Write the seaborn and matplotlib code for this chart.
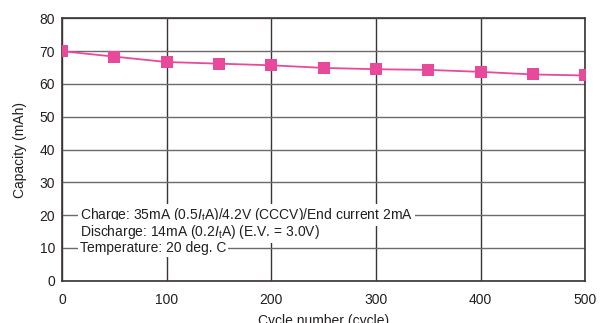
import numpy as np
import pandas as pd
import seaborn as sns
from matplotlib import pyplot as plt

cycles = [0, 50, 100, 150, 200, 250, 300, 350, 400, 450, 500]
capacity = [70.0, 68.35, 66.7, 66.2, 65.7, 64.9, 64.5, 64.3, 63.7, 62.9, 62.6]

notes = [
    (20, r"Charge: 35mA (0.5$\it{I}_{\rm t}$A)/4.2V (CCCV)/End current 2mA"),
    (15, r"Discharge: 14mA (0.2$\it{I}_{\rm t}$A) (E.V. = 3.0V)"),
    (10, "Temperature: 20 deg. C"),
]

PINK = "#E8499B"


def main():
    sns.set_style("white")
    plt.rcParams["font.family"] = ["Liberation Sans", "DejaVu Sans"]
    plt.rcParams["mathtext.fontset"] = "custom"
    plt.rcParams["mathtext.rm"] = "Liberation Sans"
    plt.rcParams["mathtext.it"] = "Liberation Sans:italic"

    df = pd.DataFrame({"cycle": cycles, "capacity": capacity})

    fig = plt.figure(figsize=(6.07, 3.23), dpi=100)
    ax = fig.add_axes([0.102, 0.131, 0.862, 0.812])

    sns.lineplot(data=df, x="cycle", y="capacity", color=PINK, linewidth=1.3,
                 marker="s", markersize=8, markeredgewidth=0, ax=ax, zorder=5)

    ax.set_xlim(0, 500)
    ax.set_ylim(0, 80)
    ax.set_xticks(range(0, 501, 100))
    ax.set_yticks(range(0, 81, 10))
    ax.grid(True, color="#6e6a6a", linewidth=1.0)
    for line in ax.get_xgridlines():
        line.set_color("#3a3433")
    for s in ax.spines.values():
        s.set_color("#3a3433")
        s.set_linewidth(1.2)
    ax.tick_params(length=0, labelsize=10, colors="#231f20")
    ax.tick_params(axis="x", pad=9)
    ax.tick_params(axis="y", pad=5)

    for y, txt in notes:
        ax.text(17, y, txt, fontsize=10, color="#231f20", va="center",
                ha="left", zorder=4,
                bbox=dict(facecolor="white", edgecolor="none", pad=1.5))

    ax.set_xlabel("Cycle number (cycle)", fontsize=10, color="#231f20", labelpad=5)
    ax.set_ylabel("Capacity (mAh)", fontsize=10, color="#231f20", labelpad=9)

    fig.savefig("out.png", dpi=100)


if __name__ == "__main__":
    main()
